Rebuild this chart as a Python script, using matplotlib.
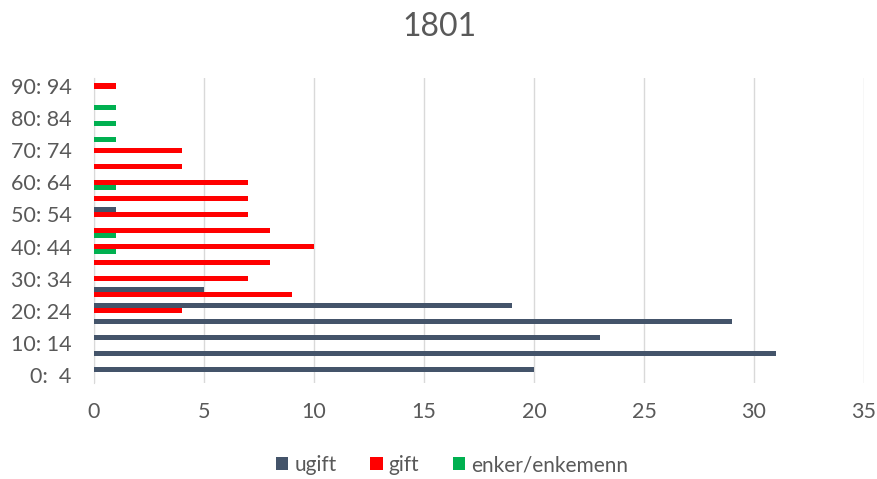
import numpy as np
import matplotlib.pyplot as plt

plt.rcParams['font.family'] = ['Lato', 'DejaVu Sans']

# age groups (5 year bands)
ages = ['0:  4', '5:  9', '10: 14', '15: 19', '20: 24', '25: 29', '30: 34',
        '35: 39', '40: 44', '45: 49', '50: 54', '55: 59', '60: 64', '65: 69',
        '70: 74', '75: 79', '80: 84', '85: 89', '90: 94']

ugift = [20, 31, 23, 29, 19, 5, 0, 0, 0, 0, 1, 0, 0, 0, 0, 0, 0, 0, 0]
gift = [0, 0, 0, 0, 4, 9, 7, 8, 10, 8, 7, 7, 7, 4, 4, 0, 0, 0, 1]
enker = [0, 0, 0, 0, 0, 0, 0, 0, 1, 1, 0, 0, 1, 0, 0, 1, 1, 1, 0]

c_ugift = '#44546A'
c_gift = '#FF0000'
c_enker = '#00B050'
txt = '#595959'

fig = plt.figure(figsize=(8.78, 4.79), dpi=100)
ax = fig.add_axes([94/878, 1 - 383/479, (864-94)/878, (383-78)/479])

y = np.arange(len(ages))
h = 0.32
ax.barh(y + h, ugift, height=h, color=c_ugift, label='ugift', zorder=3)
ax.barh(y, gift, height=h, color=c_gift, label='gift', zorder=3)
ax.barh(y - h, enker, height=h, color=c_enker, label='enker/enkemenn', zorder=3)

ax.set_xlim(0, 35)
ax.set_ylim(-0.5, len(ages) - 0.5)
ax.set_xticks(np.arange(0, 36, 5))
ax.set_yticks(y[::2])
ax.set_yticklabels(ages[::2])
ax.grid(axis='x', color='#D9D9D9', linewidth=1, zorder=0)

for s in ['top', 'right', 'bottom']:
    ax.spines[s].set_visible(False)
ax.spines['left'].set_color('#D9D9D9')
ax.tick_params(length=0, labelsize=15.5, colors=txt)
ax.tick_params(axis='y', pad=16)
ax.tick_params(axis='x', pad=14)

fig.text(0.5, 1 - 27/479, '1801', ha='center', va='center',
         fontsize=23, color=txt)

handles, labels = ax.get_legend_handles_labels()
fig.legend(handles, labels, loc='center', bbox_to_anchor=(0.515, 1 - 465/479),
           ncol=3, frameon=False, fontsize=15, labelcolor=txt,
           handlelength=0.6, handleheight=0.6, handletextpad=0.3,
           columnspacing=1.6)

plt.savefig('out.png', dpi=100)
